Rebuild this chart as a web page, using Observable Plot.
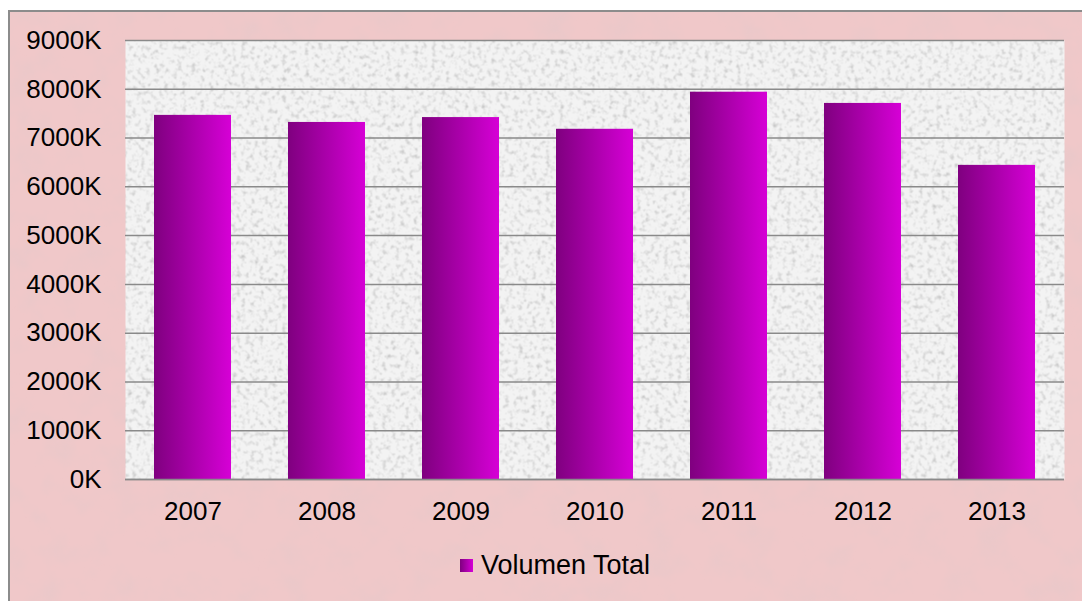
<!DOCTYPE html>
<html>
<head>
<meta charset="utf-8">
<script src="https://cdn.jsdelivr.net/npm/d3@7"></script>
<script src="https://cdn.jsdelivr.net/npm/@observablehq/plot@0.6"></script>
<style>
  html, body { margin: 0; padding: 0; background: #ffffff; width: 1082px; height: 601px; overflow: hidden; }
  #frame { position: absolute; left: 8px; top: 10px; width: 1074px; height: 591px; box-sizing: border-box;
           border-left: 2px solid #8c8c8c; border-top: 2px solid #8c8c8c; background: #efc6c7; overflow: hidden; }
  #frame svg.bg { position: absolute; left: 0; top: 0; }
  #chart { position: absolute; left: 0; top: 0; }
  #legend { position: absolute; left: 460px; top: 552px; height: 26px; display: flex; align-items: center;
            font-family: "Liberation Sans", Arial, sans-serif; font-size: 27px; line-height: 26px; color: #000; }
  #legend .sw { width: 13px; height: 13px; margin-right: 8px; background: linear-gradient(to right, #7f007f, #d600d6); }
</style>
</head>
<body>
<div id="frame"></div>
<div id="chart"></div>
<div id="legend"><span class="sw"></span><span>Volumen Total</span></div>
<script>
// Data (values in thousands)
const years = ["2007", "2008", "2009", "2010", "2011", "2012", "2013"];
const volumes = [7465, 7320, 7420, 7180, 7940, 7710, 6440];
const yTicks = [0, 1000, 2000, 3000, 4000, 5000, 6000, 7000, 8000, 9000];
const seriesName = "Volumen Total";

const data = years.map((y, i) => ({year: y, value: volumes[i], series: seriesName}));

// Decorative pink textured background
const bg = d3.select("#frame").append("svg").attr("class", "bg").attr("width", 1074).attr("height", 591);
const bgDefs = bg.append("defs");
const pf = bgDefs.append("filter").attr("id", "pinkNoise").attr("x", 0).attr("y", 0).attr("width", "100%").attr("height", "100%");
pf.append("feTurbulence").attr("type", "fractalNoise").attr("baseFrequency", 0.03).attr("numOctaves", 4).attr("seed", 7);
pf.append("feColorMatrix").attr("type", "matrix")
  .attr("values", "0 0 0 0 0.78  0 0 0 0 0.58  0 0 0 0 0.59  1.2 0 0 0 -0.55");
pf.append("feComposite").attr("in2", "SourceGraphic").attr("operator", "in");
bg.append("rect").attr("width", "100%").attr("height", "100%").attr("fill", "#f0c8c9");
bg.append("rect").attr("width", "100%").attr("height", "100%").attr("fill", "#000").attr("filter", "url(#pinkNoise)");

const chart = Plot.plot({
  width: 1082,
  height: 540,
  marginLeft: 125,
  marginRight: 18,
  marginTop: 40,
  marginBottom: 61,
  style: {background: "transparent", fontFamily: "'Liberation Sans', Arial, sans-serif", fontSize: "26px", color: "#000"},
  x: {domain: years, paddingInner: 0.426, paddingOuter: 0.213, label: null, tickSize: 0, tickPadding: 22},
  y: {domain: [0, 9000], ticks: yTicks, tickFormat: d => d + "K", label: null, tickSize: 0, tickPadding: 24},
  marks: [
    Plot.frame({fill: "url(#plotSpeck)", stroke: null}),
    Plot.ruleY(yTicks, {stroke: "#8a8a8a", strokeWidth: 1.5}),
    Plot.barY(data, {x: "year", y: "value", fill: "url(#barGrad)"}),
    Plot.ruleY([0], {stroke: "#8a8a8a", strokeWidth: 1.5})
  ]
});

const svg = d3.select(chart);
const defs = svg.insert("defs", ":first-child");
const g = defs.append("linearGradient").attr("id", "barGrad").attr("x1", "0%").attr("x2", "100%").attr("y1", "0%").attr("y2", "0%");
g.append("stop").attr("offset", "0%").attr("stop-color", "#7f007f");
g.append("stop").attr("offset", "100%").attr("stop-color", "#d600d6");

const nf = defs.append("filter").attr("id", "grayNoise").attr("x", 0).attr("y", 0).attr("width", "100%").attr("height", "100%");
nf.append("feTurbulence").attr("type", "fractalNoise").attr("baseFrequency", 0.22).attr("numOctaves", 3).attr("seed", 3);
nf.append("feColorMatrix").attr("type", "matrix")
  .attr("values", "0 0 0 0 0.55  0 0 0 0 0.55  0 0 0 0 0.55  2.4 0 0 0 -1.2");
nf.append("feComposite").attr("in2", "SourceGraphic").attr("operator", "in");
const pat = defs.append("pattern").attr("id", "plotSpeck").attr("patternUnits", "userSpaceOnUse")
  .attr("width", 1082).attr("height", 540);
pat.append("rect").attr("width", 1082).attr("height", 540).attr("fill", "#f3f3f3");
pat.append("rect").attr("width", 1082).attr("height", 540).attr("fill", "#000").attr("filter", "url(#grayNoise)");

svg.selectAll("text").attr("fill", "#000");
document.getElementById("chart").appendChild(chart);
</script>
</body>
</html>
